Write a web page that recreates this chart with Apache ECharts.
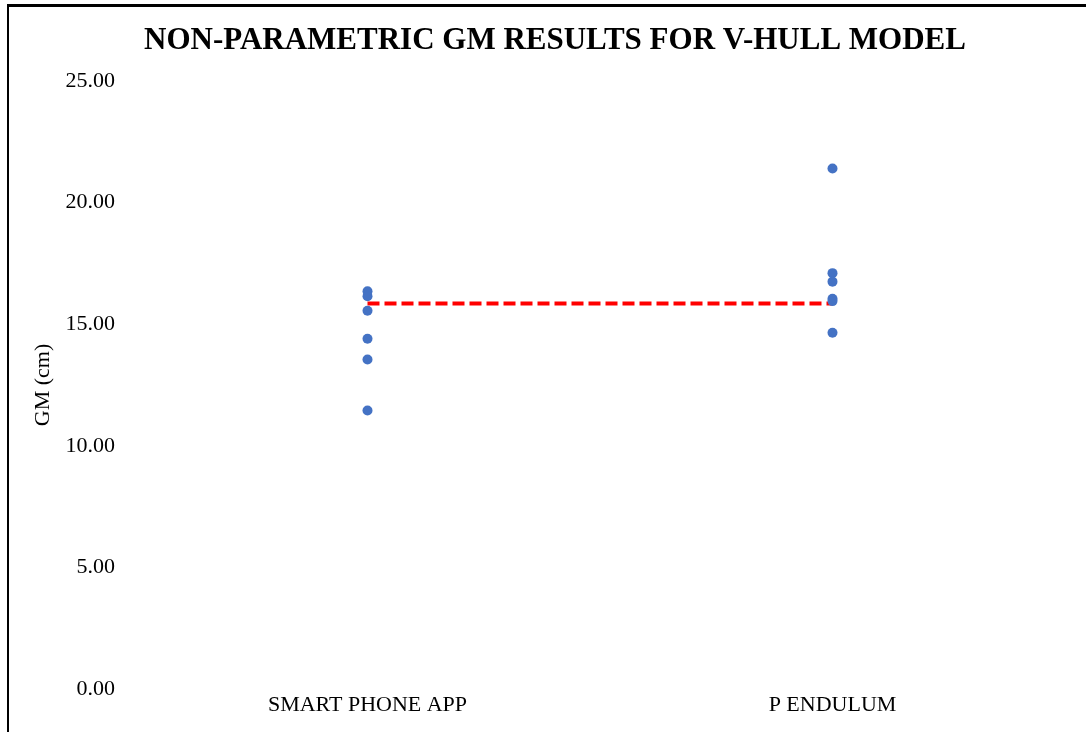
<!DOCTYPE html>
<html>
<head>
<meta charset="utf-8">
<script src="https://cdn.jsdelivr.net/npm/echarts@6/dist/echarts.min.js"></script>
<style>
  html, body { margin: 0; padding: 0; background: #fff; }
  #frame {
    position: absolute; left: 7px; top: 4px; width: 1079px; height: 728px;
    border-top: 3px solid #000; border-left: 2px solid #000; box-sizing: border-box;
  }
  #chart { position: absolute; left: 0; top: 0; width: 1086px; height: 732px; }
</style>
</head>
<body>
<div id="frame"></div>
<div id="chart"></div>
<script>
// 类别与数据
const categories = ['SMART PHONE APP', 'P ENDULUM'];
const smartPhoneGM = [16.35, 16.15, 15.55, 14.4, 13.55, 11.45];
const pendulumGM = [21.4, 17.1, 16.75, 16.05, 15.95, 14.65];
const meanGM = [15.85, 15.85];
const yTicks = [0, 5, 10, 15, 20, 25];

const chart = echarts.init(document.getElementById('chart'));

const pointData = [];
smartPhoneGM.forEach(v => pointData.push([categories[0], v]));
pendulumGM.forEach(v => pointData.push([categories[1], v]));

chart.setOption({
  animation: false,
  title: {
    text: 'NON-PARAMETRIC GM RESULTS FOR V-HULL MODEL',
    left: 550, top: 20, textAlign: 'center',
    textStyle: { fontFamily: 'Liberation Serif', fontWeight: 'bold', fontSize: 31, color: '#000' }
  },
  grid: { left: 135, right: 21, top: 81, bottom: 43 },
  xAxis: {
    type: 'category',
    data: categories,
    boundaryGap: true,
    axisLine: { show: false },
    axisTick: { show: false },
    axisLabel: { fontFamily: 'Liberation Serif', fontSize: 22, color: '#000', margin: 5 }
  },
  yAxis: {
    type: 'value',
    min: yTicks[0], max: yTicks[yTicks.length - 1], interval: 5,
    name: 'GM (cm)',
    nameLocation: 'middle',
    nameGap: 78,
    nameTextStyle: { fontFamily: 'Liberation Serif', fontSize: 22, color: '#000' },
    splitLine: { show: false },
    axisLine: { show: false },
    axisTick: { show: false },
    axisLabel: {
      fontFamily: 'Liberation Serif', fontSize: 22, color: '#000', margin: 20,
      formatter: v => v.toFixed(2)
    }
  },
  series: [
    {
      type: 'line',
      data: meanGM,
      symbol: 'none',
      lineStyle: { color: '#ff0000', width: 4, type: [12, 5] },
      z: 1
    },
    {
      type: 'scatter',
      data: pointData,
      symbolSize: 10,
      itemStyle: { color: '#4472c4', opacity: 1 },
      z: 2
    }
  ]
});
</script>
</body>
</html>
